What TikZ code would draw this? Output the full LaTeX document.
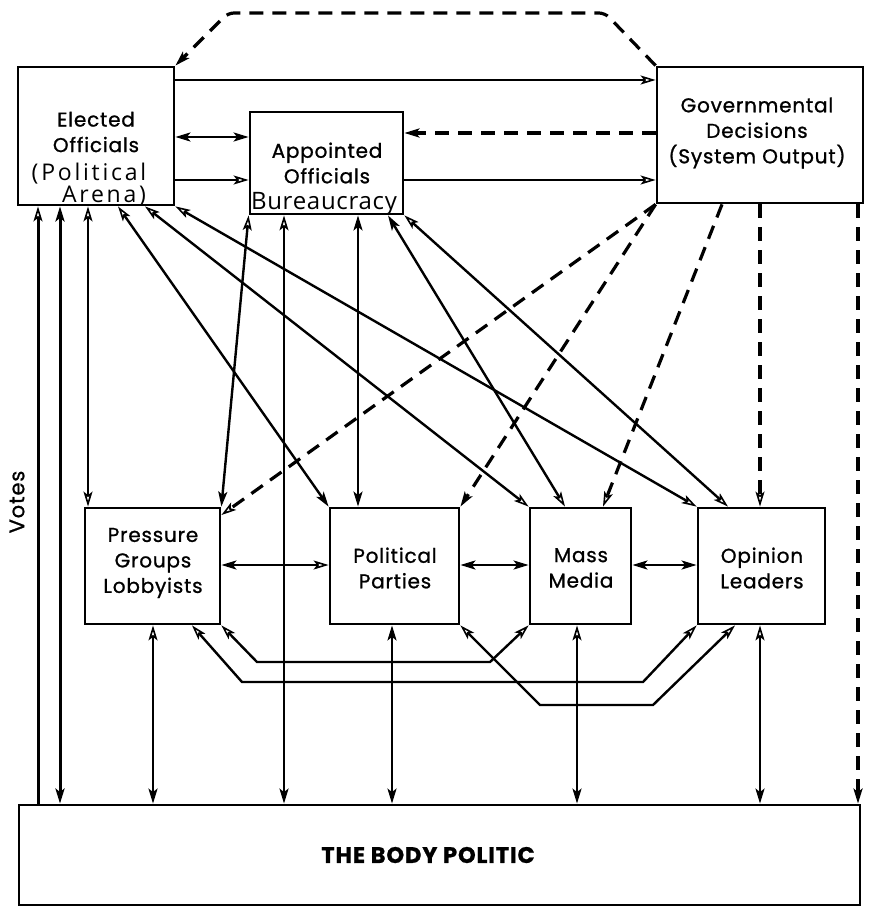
\documentclass[tikz,border=0pt]{standalone}
\usepackage{fontspec}
\setmainfont{Poppins}[LetterSpace=4, FakeBold=1]
\newfontfamily\handfont{Open Sans}[LetterSpace=12]
\newfontfamily\handtight{Open Sans}[LetterSpace=3]
\usetikzlibrary{arrows.meta}

\begin{document}
\begin{tikzpicture}[x=1pt,y=-1pt,
  box/.style={draw, line width=2.8pt, inner sep=0pt},
  lbl/.style={align=center, inner sep=0pt, font=\fontsize{20}{25.5}\selectfont},
  handlbl/.style={inner sep=0pt, font=\handfont\fontsize{23}{23}\selectfont},
  link/.style={line width=2.4pt},
  thicklink/.style={line width=3pt},
  dlink/.style={line width=3.2pt, dash pattern=on 14pt off 9pt},
  OpenHd/.tip={Stealth[open, length=15pt, width=9pt, inset=3.5pt, line width=1.6pt]},
  FillHd/.tip={Stealth[length=15pt, width=9pt, inset=3.5pt]},
]
\useasboundingbox[fill=white] (0,0) rectangle (868,920);

% boxes
\node[box, minimum width=156pt, minimum height=138pt] (E) at (96,136) {};
\node[box, minimum width=153pt, minimum height=102pt] (A) at (326.5,163) {};
\node[box, minimum width=206pt, minimum height=136pt] (G) at (760,135) {};
\node[box, minimum width=135pt, minimum height=116pt] (P) at (152.5,566) {};
\node[box, minimum width=129pt, minimum height=116pt] (PP) at (394.5,566) {};
\node[box, minimum width=101pt, minimum height=116pt] (M) at (580.5,566) {};
\node[box, minimum width=127pt, minimum height=116pt] (O) at (761.5,566) {};
\node[box, minimum width=841pt, minimum height=100pt] (B) at (439.5,855) {};

% labels
\node[lbl] (Elbl) at (96,132) {Elected\\Officials};
\node[handlbl] (Ehand1) at (89,174) {(Political};
\node[handlbl] (Ehand2) at (104,196) {Arena)};
\node[inner sep=0pt, font=\handtight\fontsize{24}{24}\selectfont] (Ahand) at (324,204) {Bureaucracy};
\node[lbl] (Albl) at (327,163) {Appointed\\Officials};
\node[lbl] (Glbl) at (757,133) {Governmental\\Decisions\\(System Output)};
\node[lbl] (Plbl) at (153,563) {Pressure\\Groups\\Lobbyists};
\node[lbl] (PPlbl) at (395,568) {Political\\Parties};
\node[lbl] (Mlbl) at (581,568) {Mass\\Media};
\node[lbl] (Olbl) at (762,568) {Opinion\\Leaders};
\node[lbl, font=\bfseries\fontsize{22.5}{24}\selectfont] (Blbl) at (428,855) {THE BODY POLITIC};
\node[lbl, rotate=90, font=\fontsize{21}{24}\selectfont] (votes) at (17,502) {Votes};

% feedback from decisions to elected officials
\draw[dlink, -FillHd, rounded corners=6pt] (G.north west) -- (605,13) -- (228,13) -- (E.north east);

% upper tier
\draw[link, -OpenHd] (E.east |- 0,80) -- (G.west |- 0,80);
\draw[link, FillHd-FillHd] (E.east |- 0,137) -- (A.west |- 0,137);
\draw[link, -OpenHd] (E.east |- 0,180) -- (A.west |- 0,180);
\draw[dlink, -FillHd] (G.west |- 0,133) -- (A.east |- 0,133);
\draw[link, -OpenHd] (A.east |- 0,180) -- (G.west |- 0,180);

% body politic and elected officials
\draw[thicklink, -OpenHd] (38,0 |- B.north) -- (38,0 |- E.south);
\draw[thicklink, FillHd-FillHd] (60,0 |- B.north) -- (60,0 |- E.south);
\draw[link, OpenHd-OpenHd] (88,0 |- E.south) -- (88,0 |- P.north);

% elected officials to intermediaries
\draw[link, OpenHd-FillHd] (118,0 |- E.south) -- (PP.north west);
\draw[link, OpenHd-OpenHd] (145,0 |- E.south) -- (M.north west);
\draw[link, OpenHd-OpenHd] (E.south east) -- (O.north west);

% appointed officials to intermediaries
\draw[link, OpenHd-FillHd] (A.south west) -- (P.north east);
\draw[link, OpenHd-FillHd] (284,0 |- A.south) -- (284,0 |- B.north);
\draw[link, FillHd-FillHd] (358,0 |- A.south) -- (358,0 |- PP.north);
\draw[link, FillHd-OpenHd] (388,0 |- A.south) -- (565,0 |- M.north);
\draw[link, OpenHd-OpenHd] (A.south east) -- (728,0 |- O.north);

% system output
\draw[dlink, -OpenHd] (G.south west) -- (P.east |- 0,515);
\draw[dlink, -FillHd] (G.south west) -- (PP.north east);
\draw[dlink, -OpenHd] (722,0 |- G.south) -- (603,0 |- M.north);
\draw[dlink, -OpenHd] (760,0 |- G.south) -- (760,0 |- O.north);
\draw[dlink, -FillHd] (858,0 |- G.south) -- (858,0 |- B.north);

% links among intermediaries
\draw[link, FillHd-OpenHd] (P.east |- 0,565) -- (PP.west |- 0,565);
\draw[link, FillHd-FillHd] (PP.east |- 0,565) -- (M.west |- 0,565);
\draw[link, FillHd-FillHd] (M.east |- 0,565) -- (O.west |- 0,565);

\draw[link, OpenHd-OpenHd] (P.south east) -- (257,662) -- (490,662) -- (M.south west);
\draw[link, OpenHd-OpenHd] (192,0 |- P.south) -- (242,682) -- (643,682) -- (O.south west);
\draw[link, OpenHd-OpenHd] (PP.south east) -- (540,705) -- (653,705) -- (735,0 |- O.south);

% intermediaries and the body politic
\draw[link, OpenHd-FillHd] (153,0 |- P.south) -- (153,0 |- B.north);
\draw[link, FillHd-FillHd] (392,0 |- PP.south) -- (392,0 |- B.north);
\draw[link, OpenHd-FillHd] (577,0 |- M.south) -- (577,0 |- B.north);
\draw[link, OpenHd-FillHd] (760,0 |- O.south) -- (760,0 |- B.north);

\end{tikzpicture}
\end{document}
